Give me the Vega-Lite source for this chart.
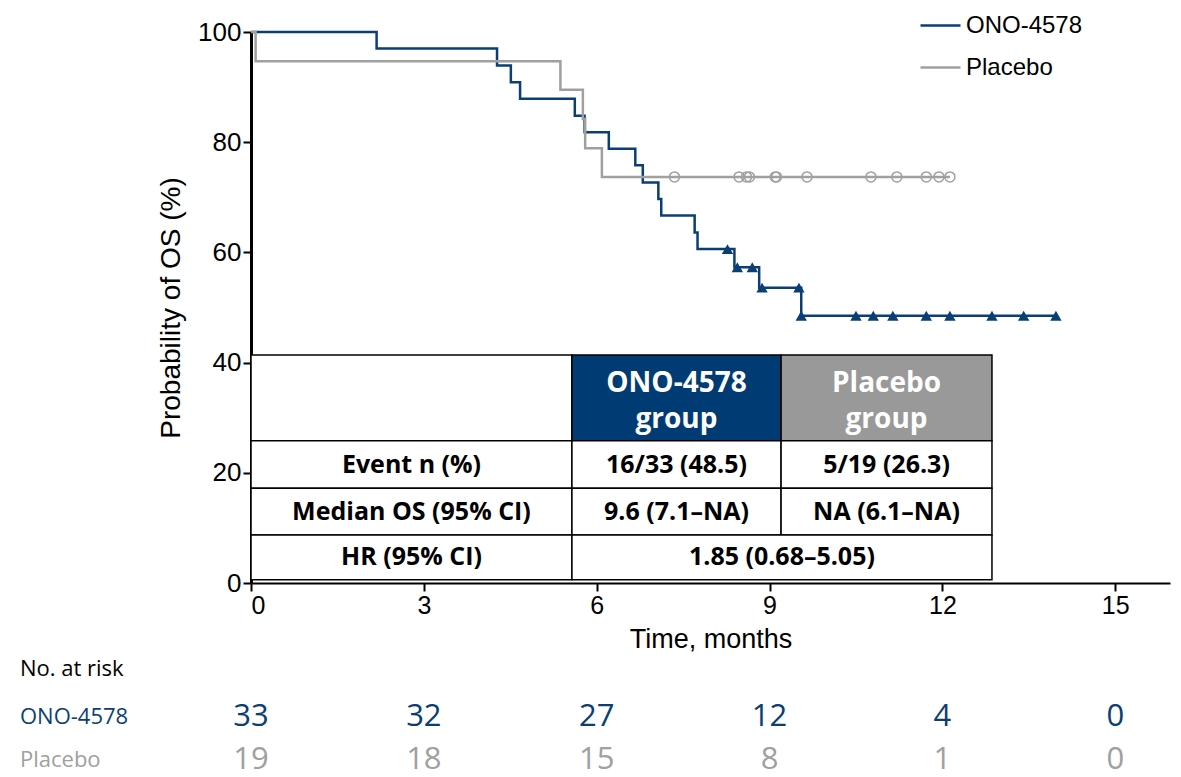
{
  "$schema": "https://vega.github.io/schema/vega-lite/v6.json",
  "width": 919, "height": 551,
  "autosize": "none",
  "padding": {"left": 251, "top": 32, "right": 11, "bottom": 194},
  "background": "white",
  "config": {"view": {"stroke": null}, "font": "Liberation Sans"},
  "datasets": {
    "km": [
      {"group": "ONO-4578", "t": 0, "s": 100}, {"group": "ONO-4578", "t": 2.18, "s": 97.0},
      {"group": "ONO-4578", "t": 4.27, "s": 93.9}, {"group": "ONO-4578", "t": 4.51, "s": 90.9},
      {"group": "ONO-4578", "t": 4.67, "s": 87.9}, {"group": "ONO-4578", "t": 5.62, "s": 84.8},
      {"group": "ONO-4578", "t": 5.79, "s": 81.8}, {"group": "ONO-4578", "t": 6.21, "s": 78.8},
      {"group": "ONO-4578", "t": 6.67, "s": 75.8}, {"group": "ONO-4578", "t": 6.80, "s": 72.7},
      {"group": "ONO-4578", "t": 7.07, "s": 69.7}, {"group": "ONO-4578", "t": 7.12, "s": 66.7},
      {"group": "ONO-4578", "t": 7.70, "s": 63.6}, {"group": "ONO-4578", "t": 7.75, "s": 60.6},
      {"group": "ONO-4578", "t": 8.39, "s": 57.3}, {"group": "ONO-4578", "t": 8.82, "s": 53.6},
      {"group": "ONO-4578", "t": 9.55, "s": 48.5}, {"group": "ONO-4578", "t": 14.0, "s": 48.5},
      {"group": "Placebo", "t": 0, "s": 100}, {"group": "Placebo", "t": 0.08, "s": 94.7},
      {"group": "Placebo", "t": 5.37, "s": 89.5}, {"group": "Placebo", "t": 5.76, "s": 84.2},
      {"group": "Placebo", "t": 5.80, "s": 78.9}, {"group": "Placebo", "t": 6.09, "s": 73.7},
      {"group": "Placebo", "t": 12.13, "s": 73.7}
    ],
    "censor": [
      {"group": "ONO-4578", "t": 8.27, "s": 60.6}, {"group": "ONO-4578", "t": 8.44, "s": 57.3},
      {"group": "ONO-4578", "t": 8.70, "s": 57.3}, {"group": "ONO-4578", "t": 8.87, "s": 53.6},
      {"group": "ONO-4578", "t": 9.51, "s": 53.6}, {"group": "ONO-4578", "t": 9.55, "s": 48.5},
      {"group": "ONO-4578", "t": 10.5, "s": 48.5}, {"group": "ONO-4578", "t": 10.8, "s": 48.5},
      {"group": "ONO-4578", "t": 11.14, "s": 48.5}, {"group": "ONO-4578", "t": 11.72, "s": 48.5},
      {"group": "ONO-4578", "t": 12.13, "s": 48.5}, {"group": "ONO-4578", "t": 12.86, "s": 48.5},
      {"group": "ONO-4578", "t": 13.41, "s": 48.5}, {"group": "ONO-4578", "t": 13.97, "s": 48.5},
      {"group": "Placebo", "t": 7.35, "s": 73.7}, {"group": "Placebo", "t": 8.47, "s": 73.7},
      {"group": "Placebo", "t": 8.60, "s": 73.7}, {"group": "Placebo", "t": 8.65, "s": 73.7},
      {"group": "Placebo", "t": 9.1, "s": 73.7}, {"group": "Placebo", "t": 9.12, "s": 73.7},
      {"group": "Placebo", "t": 9.65, "s": 73.7}, {"group": "Placebo", "t": 10.76, "s": 73.7},
      {"group": "Placebo", "t": 11.21, "s": 73.7}, {"group": "Placebo", "t": 11.72, "s": 73.7},
      {"group": "Placebo", "t": 11.94, "s": 73.7}, {"group": "Placebo", "t": 12.13, "s": 73.7}
    ],
    "cells": [
      {"kind": "blank", "x0": 0, "x1": 5.57, "y0": 25.8, "y1": 41.4, "label": ""},
      {"kind": "ono", "x0": 5.57, "x1": 9.2, "y0": 25.8, "y1": 41.4, "label": "ONO-4578"},
      {"kind": "pbo", "x0": 9.2, "x1": 12.86, "y0": 25.8, "y1": 41.4, "label": "Placebo"},
      {"kind": "body", "x0": 0, "x1": 5.57, "y0": 17.2, "y1": 25.8, "label": "Event n (%)"},
      {"kind": "body", "x0": 5.57, "x1": 9.2, "y0": 17.2, "y1": 25.8, "label": "16/33 (48.5)"},
      {"kind": "body", "x0": 9.2, "x1": 12.86, "y0": 17.2, "y1": 25.8, "label": "5/19 (26.3)"},
      {"kind": "body", "x0": 0, "x1": 5.57, "y0": 8.7, "y1": 17.2, "label": "Median OS (95% CI)"},
      {"kind": "body", "x0": 5.57, "x1": 9.2, "y0": 8.7, "y1": 17.2, "label": "9.6 (7.1–NA)"},
      {"kind": "body", "x0": 9.2, "x1": 12.86, "y0": 8.7, "y1": 17.2, "label": "NA (6.1–NA)"},
      {"kind": "body", "x0": 0, "x1": 5.57, "y0": 0.6, "y1": 8.7, "label": "HR (95% CI)"},
      {"kind": "body", "x0": 5.57, "x1": 12.86, "y0": 0.6, "y1": 8.7, "label": "1.85 (0.68–5.05)"}
    ],
    "headers": [
      {"x": 7.385, "y": 36.2, "label": "ONO-4578"},
      {"x": 7.385, "y": 29.5, "label": "group"},
      {"x": 11.03, "y": 36.2, "label": "Placebo"},
      {"x": 11.03, "y": 29.5, "label": "group"}
    ],
    "risk": [
      {"group": "ONO-4578", "t": 0, "row": -24.4, "n": "33"}, {"group": "ONO-4578", "t": 3, "row": -24.4, "n": "32"},
      {"group": "ONO-4578", "t": 6, "row": -24.4, "n": "27"}, {"group": "ONO-4578", "t": 9, "row": -24.4, "n": "12"},
      {"group": "ONO-4578", "t": 12, "row": -24.4, "n": "4"}, {"group": "ONO-4578", "t": 15, "row": -24.4, "n": "0"},
      {"group": "Placebo", "t": 0, "row": -32.1, "n": "19"}, {"group": "Placebo", "t": 3, "row": -32.1, "n": "18"},
      {"group": "Placebo", "t": 6, "row": -32.1, "n": "15"}, {"group": "Placebo", "t": 9, "row": -32.1, "n": "8"},
      {"group": "Placebo", "t": 12, "row": -32.1, "n": "1"}, {"group": "Placebo", "t": 15, "row": -32.1, "n": "0"}
    ],
    "risklabels": [
      {"group": "ONO-4578", "row": -24.4, "label": "ONO-4578"},
      {"group": "Placebo", "row": -32.1, "label": "Placebo"},
      {"group": "title", "row": -15.6, "label": "No. at risk"}
    ]
  },
  "layer": [
    {
      "data": {"name": "km"},
      "mark": {"type": "line", "interpolate": "step-after", "strokeWidth": 2.5},
      "encoding": {
        "x": {"field": "t", "type": "quantitative",
              "scale": {"domain": [0, 15.95], "nice": false},
              "axis": {"values": [0, 3, 6, 9, 12, 15], "format": "d", "grid": false, "labelFontSize": 25, "titleFontSize": 27,
                       "titleFontWeight": "normal", "title": "Time, months", "domainColor": "black", "domainWidth": 2,
                       "tickColor": "black", "tickWidth": 2, "tickSize": 8, "labelColor": "black", "titleColor": "black",
                       "labelPadding": 2, "titlePadding": 8}},
        "y": {"field": "s", "type": "quantitative",
              "scale": {"domain": [0, 100], "nice": false, "zero": false},
              "axis": {"values": [0, 20, 40, 60, 80, 100], "grid": false, "labelFontSize": 26, "titleFontSize": 28,
                       "titleFontWeight": "normal", "title": "Probability of OS (%)", "domainColor": "black", "domainWidth": 3,
                       "tickColor": "black", "tickWidth": 2, "tickSize": 8, "labelColor": "black", "titleColor": "black",
                       "labelPadding": 2, "titlePadding": 12}},
        "color": {"field": "group", "type": "nominal",
                  "scale": {"domain": ["ONO-4578", "Placebo"], "range": ["#0b3f73", "#a0a0a0"]},
                  "legend": {"orient": "none", "legendX": 668, "legendY": -28, "title": null, "labelFontSize": 24,
                             "labelColor": "black", "symbolType": "stroke", "symbolSize": 1600, "symbolStrokeWidth": 2.5,
                             "rowPadding": 8, "labelOffset": 4}}
      }
    },
    {
      "data": {"name": "censor"},
      "transform": [{"filter": "datum.group == 'ONO-4578'"}],
      "mark": {"type": "point", "shape": "triangle-up", "filled": true, "size": 130, "color": "#0b3f73", "opacity": 1},
      "encoding": {"x": {"field": "t", "type": "quantitative"}, "y": {"field": "s", "type": "quantitative"}}
    },
    {
      "data": {"name": "censor"},
      "transform": [{"filter": "datum.group == 'Placebo'"}],
      "mark": {"type": "point", "shape": "circle", "filled": false, "size": 100, "color": "#a0a0a0", "strokeWidth": 1.5, "opacity": 1},
      "encoding": {"x": {"field": "t", "type": "quantitative"}, "y": {"field": "s", "type": "quantitative"}}
    },
    {
      "data": {"name": "cells"},
      "mark": {"type": "rect", "stroke": "black", "strokeWidth": 1.5},
      "encoding": {
        "x": {"field": "x0", "type": "quantitative"}, "x2": {"field": "x1"},
        "y": {"field": "y0", "type": "quantitative"}, "y2": {"field": "y1"},
        "fill": {"field": "kind", "type": "nominal", "legend": null,
                 "scale": {"domain": ["blank", "ono", "pbo", "body", "ONO-4578", "Placebo", "title"],
                           "range": ["white", "#003b73", "#999999", "white", "#0b3f73", "#a0a0a0", "black"]}}
      }
    },
    {
      "data": {"name": "cells"},
      "transform": [{"filter": "datum.kind == 'body'"}, {"calculate": "(datum.x0 + datum.x1) / 2", "as": "xc"}, {"calculate": "(datum.y0 + datum.y1) / 2", "as": "yc"}],
      "mark": {"type": "text", "font": "Open Sans", "fontWeight": "bold", "fontSize": 25, "color": "black", "baseline": "middle"},
      "encoding": {"x": {"field": "xc", "type": "quantitative"}, "y": {"field": "yc", "type": "quantitative"}, "text": {"field": "label"}}
    },
    {
      "data": {"name": "headers"},
      "mark": {"type": "text", "font": "Open Sans", "fontWeight": "bold", "fontSize": 28, "baseline": "middle", "color": "white"},
      "encoding": {"x": {"field": "x", "type": "quantitative"}, "y": {"field": "y", "type": "quantitative"}, "text": {"field": "label"}}
    },
    {
      "data": {"name": "risk"},
      "mark": {"type": "text", "font": "Open Sans", "fontSize": 31, "baseline": "middle"},
      "encoding": {
        "x": {"field": "t", "type": "quantitative"},
        "y": {"field": "row", "type": "quantitative"},
        "text": {"field": "n"},
        "fill": {"field": "group", "type": "nominal", "legend": null}
      }
    },
    {
      "data": {"name": "risklabels"},
      "mark": {"type": "text", "font": "Open Sans", "fontSize": 22, "baseline": "middle", "align": "left", "x": -231},
      "encoding": {
        "y": {"field": "row", "type": "quantitative"},
        "text": {"field": "label"},
        "fill": {"field": "group", "type": "nominal", "legend": null}
      }
    }
  ]
}
